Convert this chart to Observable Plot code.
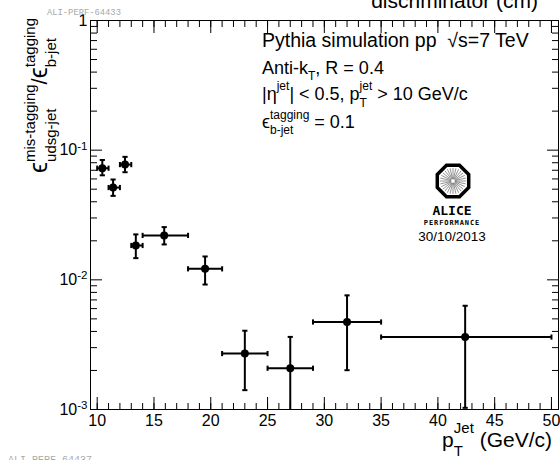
<!DOCTYPE html>
<html><head><meta charset="utf-8">
<script src="https://cdn.jsdelivr.net/npm/d3@7"></script>
<script src="https://cdn.jsdelivr.net/npm/@observablehq/plot@0.6"></script>
<style>body{margin:0;background:#fff}svg{display:block}text{white-space:pre}</style>
</head><body><div id="chart"></div>
<script>
// ---- data ----
const ptCenter = [10.45, 11.4, 12.45, 13.4, 15.9, 19.5, 23.0, 27.0, 32.0, 42.4];
const ptLow    = [10, 11, 12, 13, 14, 18, 21, 25, 29, 35];
const ptHigh   = [11, 12, 13, 14, 18, 21, 25, 29, 35, 50];
const ratio     = [0.0726, 0.0515, 0.0774, 0.0184, 0.0220, 0.01216, 0.00270, 0.00208, 0.00473, 0.00362];
const ratioLow  = [0.0640, 0.0444, 0.0676, 0.0147, 0.01875, 0.0092, 0.00141, 0.00080, 0.00201, 0.00103];
const ratioHigh = [0.0840, 0.0594, 0.0888, 0.0224, 0.0255, 0.01514, 0.00405, 0.00363, 0.00759, 0.00631];
const xMajor = [10, 15, 20, 25, 30, 35, 40, 45, 50];
const xMinor = d3.range(10, 51, 1);
const yMajor = [1e-3, 1e-2, 1e-1, 1];
const yTickLabels = ["10^-3", "10^-2", "10^-1", "1"];
const yMinor = [2,3,4,5,6,7,8,9].flatMap(m => [1e-3, 1e-2, 1e-1].map(d => m * d));

const data = ptCenter.map((x, i) => ({x, xl: ptLow[i], xh: ptHigh[i], y: ratio[i], yl: ratioLow[i], yh: ratioHigh[i]}));

const hCap = {draw(ctx, size) { const r = Math.sqrt(size / Math.PI); ctx.moveTo(-r, 0); ctx.lineTo(r, 0); }};
const vCap = {draw(ctx, size) { const r = Math.sqrt(size / Math.PI); ctx.moveTo(0, -r); ctx.lineTo(0, r); }};
const blank = () => "";
const FONT = "'Liberation Sans', Arial, Helvetica, sans-serif";

const chart = Plot.plot({
  width: 560, height: 460,
  marginLeft: 90, marginRight: 2, marginTop: 20, marginBottom: 51,
  x: {domain: [9.41, 50.62], label: null},
  y: {type: "log", domain: [1e-3, 1], label: null},
  style: {fontFamily: FONT, fontSize: "16px", color: "black", background: "white", overflow: "visible"},
  marks: [
    Plot.frame({stroke: "black", strokeWidth: 1}),
    Plot.axisX(xMajor, {tickSize: -12, tickFormat: blank, label: null}),
    Plot.axisX(xMinor, {tickSize: -6, tickFormat: blank, label: null}),
    Plot.axisX(xMajor, {anchor: "top", tickSize: -12, tickFormat: blank, label: null}),
    Plot.axisX(xMinor, {anchor: "top", tickSize: -6, tickFormat: blank, label: null}),
    Plot.axisX(xMajor, {tickSize: 0, tickPadding: 5, label: null, fontSize: 16}),
    Plot.axisY(yMajor, {tickSize: -12, tickFormat: blank, label: null}),
    Plot.axisY(yMinor, {tickSize: -7, tickFormat: blank, label: null}),
    Plot.axisY(yMajor, {anchor: "right", tickSize: -12, tickFormat: blank, label: null}),
    Plot.axisY(yMinor, {anchor: "right", tickSize: -7, tickFormat: blank, label: null}),
    Plot.axisY(yMajor, {tickSize: 0, tickPadding: 3, label: null, fontSize: 16,
      tickFormat: d => yTickLabels[yMajor.indexOf(d)]}),
    Plot.ruleY(data, {y: "y", x1: "xl", x2: "xh", stroke: "black", strokeWidth: 2}),
    Plot.ruleX(data, {x: "x", y1: "yl", y2: "yh", stroke: "black", strokeWidth: 2, clip: true}),
    Plot.dot(data, {x: "x", y: "yh", symbol: hCap, r: 2.6, fill: "none", stroke: "black", strokeWidth: 2}),
    Plot.dot(data, {x: "x", y: "yl", symbol: hCap, r: 2.6, fill: "none", stroke: "black", strokeWidth: 2, clip: true}),
    Plot.dot(data, {x: "xl", y: "y", symbol: vCap, r: 2.6, fill: "none", stroke: "black", strokeWidth: 2}),
    Plot.dot(data, {x: "xh", y: "y", symbol: vCap, r: 2.6, fill: "none", stroke: "black", strokeWidth: 2}),
    Plot.dot(data, {x: "x", y: "y", r: 4, fill: "black", stroke: "none"})
  ]
});
document.getElementById("chart").appendChild(chart);

const svg = d3.select(chart);

// superscripts on y tick labels
svg.selectAll('g[aria-label="y-axis tick label"] text').each(function() {
  const s = this.textContent;
  if (s.includes("^")) {
    const [base, exp] = s.split("^");
    const t = d3.select(this);
    t.text(base);
    t.append("tspan").attr("dy", "-0.5em").attr("font-size", "0.72em").text(exp);
  }
});

// rich text helper (sub/superscripts stacked like TLatex)
function rich(parent, x, y, parts, opts = {}) {
  const g = parent.append("g").attr("font-family", FONT).attr("fill", "black").attr("text-anchor", "start");
  let cx = 0;
  for (const p of parts) {
    const items = p.stack || [p];
    let w = 0;
    for (const q of items) {
      const el = g.append("text").attr("x", cx).attr("y", q.dy || 0)
        .attr("font-size", q.size).text(q.t);
      w = Math.max(w, el.node().getComputedTextLength());
    }
    cx += w;
  }
  const shift = opts.anchor === "end" ? -cx : opts.anchor === "middle" ? -cx / 2 : 0;
  if (opts.rotate) g.attr("transform", `translate(${x},${y}) rotate(-90) translate(${shift},0)`);
  else g.attr("transform", `translate(${x + shift},${y})`);
  return g;
}

// axis titles
rich(svg, 47, 18, [
  {t: "ϵ", size: 25},
  {stack: [{t: "mis-tagging", size: 15, dy: -12}, {t: "udsg-jet", size: 15, dy: 9}]},
  {t: "/", size: 22},
  {t: "ϵ", size: 25},
  {stack: [{t: "tagging", size: 15, dy: -12}, {t: "b-jet", size: 15, dy: 9}]}
], {anchor: "end", rotate: true});

rich(svg, 552, 447, [
  {t: "p", size: 21},
  {stack: [{t: "Jet", size: 15, dy: -14}, {t: "T", size: 15, dy: 9}]},
  {t: " (GeV/c)", size: 21}
], {anchor: "end"});

// legend text block
rich(svg, 262, 47, [{t: "Pythia simulation pp  √s=7 TeV", size: 19.5}]);
rich(svg, 262, 74, [{t: "Anti-k", size: 18}, {stack: [{t: "T", size: 12, dy: 6}]}, {t: ", R = 0.4", size: 18}]);
rich(svg, 262, 100, [{t: "|η", size: 18}, {stack: [{t: "jet", size: 12, dy: -10}]},
  {t: "| < 0.5, p", size: 18}, {stack: [{t: "jet", size: 12, dy: -10}, {t: "T", size: 12, dy: 7}]},
  {t: " > 10 GeV/c", size: 18}]);
rich(svg, 262, 128, [{t: "ϵ", size: 18}, {stack: [{t: "tagging", size: 12, dy: -9}, {t: "b-jet", size: 12, dy: 6}]},
  {t: " = 0.1", size: 18}]);

// top cut-off title from neighbouring panel
svg.append("text").attr("x", 538).attr("y", 8).attr("text-anchor", "end")
  .attr("font-family", FONT).attr("font-size", 21).text("discriminator (cm)");

// watermarks
svg.append("text").attr("x", 47).attr("y", 15).attr("text-anchor", "start").attr("font-family", "'Liberation Mono', 'DejaVu Sans Mono', monospace")
  .attr("font-size", 8.8).attr("fill", "#aaa").text("ALI-PERF-64433");
svg.append("text").attr("x", 8).attr("y", 463).attr("text-anchor", "start").attr("font-family", "'Liberation Mono', 'DejaVu Sans Mono', monospace")
  .attr("font-size", 10).attr("fill", "#aaa").text("ALI-PERF-64437");

// ALICE logo
const lg = svg.append("g").attr("transform", "translate(453,181)");
const R = 17;
const oct = d3.range(8).map(i => { const a = Math.PI / 8 + i * Math.PI / 4; return [R * Math.cos(a), R * Math.sin(a)]; });
lg.append("path").attr("d", "M" + oct.join("L") + "Z").attr("fill", "white").attr("stroke", "black").attr("stroke-width", 3.5);
d3.range(28).forEach(i => {
  const a = i * 2 * Math.PI / 28;
  lg.append("line").attr("x1", 2 * Math.cos(a)).attr("y1", 2 * Math.sin(a))
    .attr("x2", 13 * Math.cos(a)).attr("y2", 13 * Math.sin(a)).attr("stroke", "#777").attr("stroke-width", 0.8);
});
svg.append("text").attr("x", 452).attr("y", 215).attr("text-anchor", "middle")
  .attr("font-family", "'DejaVu Sans Mono', monospace").attr("font-weight", "bold").attr("font-size", 13).text("ALICE");
svg.append("text").attr("x", 452).attr("y", 225).attr("text-anchor", "middle")
  .attr("font-family", "'DejaVu Sans Mono', monospace").attr("font-weight", "bold").attr("font-size", 7)
  .attr("letter-spacing", 0.9).text("PERFORMANCE");
svg.append("text").attr("x", 452).attr("y", 241).attr("text-anchor", "middle")
  .attr("font-family", FONT).attr("font-size", 13.5).text("30/10/2013");
</script></body></html>
